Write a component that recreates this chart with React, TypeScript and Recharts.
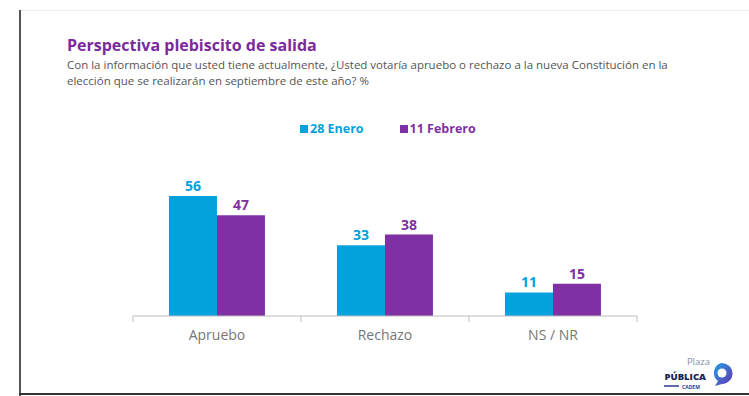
import React from "react";
import { Bar, BarChart, LabelList, XAxis, YAxis } from "recharts";

const categories = ["Apruebo", "Rechazo", "NS / NR"];
const enero = [56, 33, 11];
const febrero = [47, 38, 15];
const seriesNames = ["28 Enero", "11 Febrero"];

const CYAN = "#03A2DF";
const PURPLE = "#7F30A4";
const FONT = "'Open Sans', 'Noto Sans', sans-serif";

const data = categories.map((name, i) => ({
  name,
  enero: enero[i],
  febrero: febrero[i],
}));

function BoundaryTick(props: any) {
  const { x, y, payload, index, visibleTicksCount } = props;
  const band = 168;
  return (
    <g>
      <line x1={x - band / 2} y1={y - 8} x2={x - band / 2} y2={y - 2} stroke="#bdbdbd" />
      {index === visibleTicksCount - 1 && (
        <line x1={x + band / 2} y1={y - 8} x2={x + band / 2} y2={y - 2} stroke="#bdbdbd" />
      )}
      <text x={x} y={y + 16} textAnchor="middle" fill="#767676" fontSize={14} fontFamily={FONT}>
        {payload.value}
      </text>
    </g>
  );
}

function ChartLegend() {
  const colors = [CYAN, PURPLE];
  return (
    <div
      style={{
        position: "absolute",
        left: 300,
        top: 120,
        display: "flex",
        gap: 36,
      }}
    >
      {seriesNames.map((label, i) => (
        <div key={label} style={{ display: "flex", alignItems: "center", gap: 2 }}>
          <span style={{ width: 8, height: 8, background: colors[i], display: "inline-block" }} />
          <span style={{ color: colors[i], fontWeight: 700, fontSize: 12.5, fontFamily: FONT }}>{label}</span>
        </div>
      ))}
    </div>
  );
}

function Logo() {
  return (
    <svg width={90} height={42} style={{ position: "absolute", left: 655, top: 352 }}>
      <defs>
        <linearGradient id="bub" x1="0" y1="0" x2="1" y2="1">
          <stop offset="0%" stopColor="#1fa2e8" />
          <stop offset="100%" stopColor="#6a2fb0" />
        </linearGradient>
      </defs>
      <text x={55} y={13} textAnchor="end" fontSize={9.5} fill="#8a8fa3" fontFamily={FONT}>Plaza</text>
      <text x={51} y={28} textAnchor="end" fontSize={9.5} fontWeight={800} fill="#1d2552" fontFamily={FONT}>PÚBLICA</text>
      <line x1={9} y1={34} x2={24} y2={34} stroke="#2d3a8c" strokeWidth={1.5} />
      <text x={27} y={37} fontSize={5} fontWeight={700} fill="#2d3a8c" fontFamily={FONT}>CADEM</text>
      <path d="M66 11 a11 10.5 0 1 1 1 21 l-7 2 l3 -5 a11 10.5 0 0 1 3 -18 z" fill="url(#bub)" />
      <circle cx={67} cy={21} r={4.5} fill="#fff" />
    </svg>
  );
}

export default function App() {
  return (
    <div
      style={{
        position: "absolute",
        left: 0,
        top: 0,
        width: 749,
        height: 396,
        background: "#fff",
        overflow: "hidden",
        fontFamily: FONT,
      }}
    >
      <div style={{ position: "absolute", left: 20, top: 10, right: 0, height: 1, background: "#ececec" }} />
      <div style={{ position: "absolute", left: 19, top: 10, width: 2, bottom: 0, background: "#555" }} />
      <div style={{ position: "absolute", left: 19, bottom: 1, right: 0, height: 2, background: "#333" }} />
      <div
        style={{
          position: "absolute",
          left: 67,
          top: 34,
          fontSize: 16,
          fontWeight: 700,
          color: "#7B2A9E",
        }}
      >
        Perspectiva plebiscito de salida
      </div>
      <div
        style={{
          position: "absolute",
          left: 67,
          top: 57,
          width: 612,
          fontSize: 11.5,
          lineHeight: "16px",
          color: "#555",
        }}
      >
        Con la información que usted tiene actualmente, ¿Usted votaría apruebo o rechazo a la nueva Constitución en la
        elección que se realizarán en septiembre de este año? %
      </div>
      <ChartLegend />
      <div style={{ position: "absolute", left: 0, top: 0 }}>
        <BarChart
          width={749}
          height={396}
          data={data}
          margin={{ top: 166, right: 112, bottom: 50, left: 133 }}
          barCategoryGap="21.4%"
          barGap={0}
        >
          <XAxis
            dataKey="name"
            axisLine={{ stroke: "#bdbdbd" }}
            tickLine={false}
            tick={<BoundaryTick />}
            interval={0}
            height={30}
          />
          <YAxis hide domain={[0, 70]} />
          <Bar dataKey="enero" name={seriesNames[0]} fill={CYAN} isAnimationActive={false}>
            <LabelList dataKey="enero" position="top" offset={5} fill={CYAN} fontSize={14} fontWeight={700} fontFamily={FONT} />
          </Bar>
          <Bar dataKey="febrero" name={seriesNames[1]} fill={PURPLE} isAnimationActive={false}>
            <LabelList dataKey="febrero" position="top" offset={5} fill={PURPLE} fontSize={14} fontWeight={700} fontFamily={FONT} />
          </Bar>
        </BarChart>
      </div>
      <Logo />
    </div>
  );
}
